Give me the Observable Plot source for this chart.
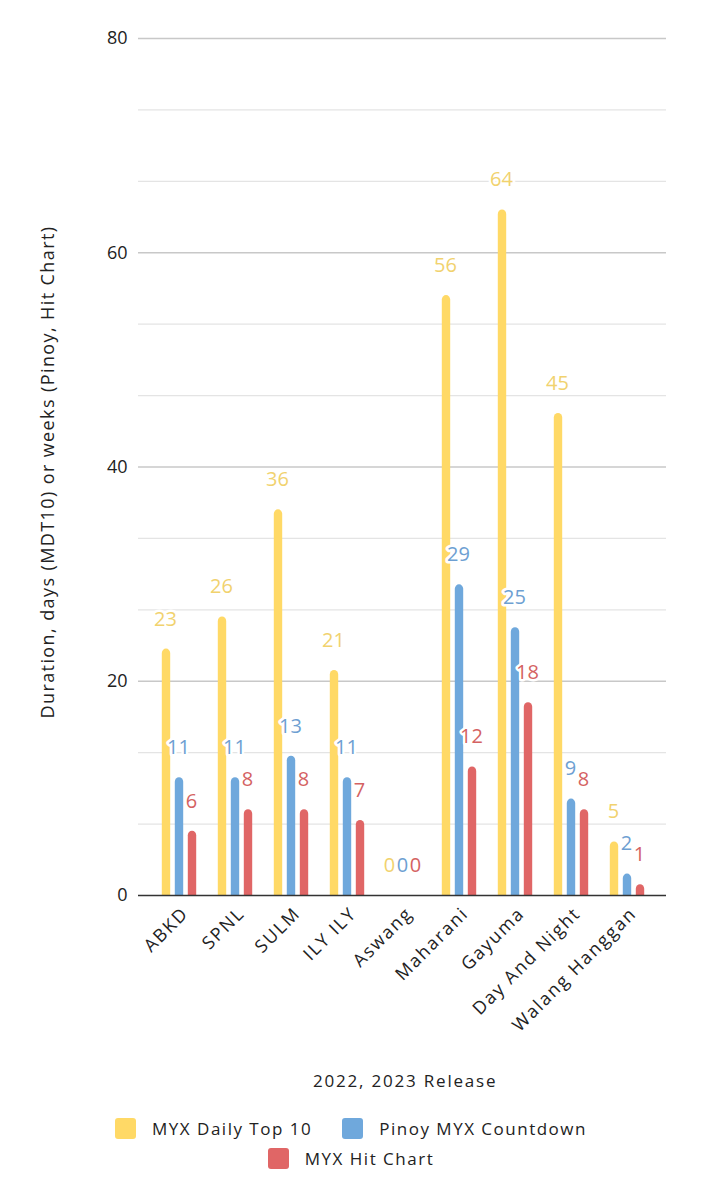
<!DOCTYPE html>
<html>
<head>
<meta charset="utf-8">
<script src="https://cdn.jsdelivr.net/npm/d3@7"></script>
<script src="https://cdn.jsdelivr.net/npm/@observablehq/plot@0.6"></script>
<style>
  body { margin: 0; background: #fff; font-family: "Open Sans", sans-serif; }
  #wrap { width: 702px; }
  #xtitle { height: 32px; line-height: 32px; text-align: left; padding-left: 313px; font-size: 17px; letter-spacing: 1.8px; color: #222; }
  #legend { width: 520px; margin: 16px 0 0 91px; display: flex; flex-wrap: wrap; justify-content: center; column-gap: 30px; }
  .item { display: flex; align-items: center; height: 30px; font-size: 17px; letter-spacing: 1.5px; color: #222; }
  .sw { width: 21px; height: 21px; border-radius: 3px; margin-right: 16px; }
</style>
</head>
<body>
<div id="wrap">
  <div id="chart"></div>
  <div id="xtitle"></div>
  <div id="legend"></div>
</div>
<script>
const categories = ["ABKD", "SPNL", "SULM", "ILY ILY", "Aswang", "Maharani", "Gayuma", "Day And Night", "Walang Hanggan"];
const dailyTop10 = [23, 26, 36, 21, 0, 56, 64, 45, 5];
const pinoyCountdown = [11, 11, 13, 11, 0, 29, 25, 9, 2];
const hitChart = [6, 8, 8, 7, 0, 12, 18, 8, 1];
const seriesNames = ["MYX Daily Top 10", "Pinoy MYX Countdown", "MYX Hit Chart"];
const seriesColors = ["#FFD966", "#6FA8DC", "#E06666"];
const labelColors = ["#F1D26E", "#6E9FD2", "#D46262"];
const majorTicks = [0, 20, 40, 60, 80];
const minorTicks = [20/3, 40/3, 80/3, 100/3, 140/3, 160/3, 200/3, 220/3];
const yTitle = "Duration, days (MDT10) or weeks (Pinoy, Hit Chart)";
const xTitle = "2022, 2023 Release";

const seriesValues = [dailyTop10, pinoyCountdown, hitChart];
const offsets = [-13, 0, 13];
const series = seriesValues.map((vals, s) => ({
  name: seriesNames[s],
  color: seriesColors[s],
  textColor: labelColors[s],
  dx: offsets[s],
  rows: categories.map((c, i) => ({category: c, value: vals[i]}))
}));

const barMarks = series.map(s => Plot.barY(s.rows, {
  x: "category", y1: -0.45, y2: "value", fill: s.color,
  insetLeft: 23.8, insetRight: 23.8, dx: s.dx, rx: 4.5, clip: true
}));
const labelMarks = series.map(s => Plot.text(s.rows, {
  x: "category", y: "value", text: d => String(d.value),
  dx: s.dx - 1, dy: -30, fill: s.textColor, stroke: "white", strokeWidth: 5,
  fontSize: 20, lineAnchor: "middle"
}));

const chart = Plot.plot({
  width: 702, height: 1065,
  marginTop: 38, marginBottom: 170, marginLeft: 138, marginRight: 36,
  style: {fontFamily: "Open Sans", background: "white", color: "#222"},
  x: {domain: categories, padding: 0, insetLeft: 10.7, insetRight: 7.9, axis: null},
  y: {domain: [0, 80], axis: null},
  marks: [
    Plot.ruleY(minorTicks, {stroke: "#e4e4e4", strokeWidth: 1.3}),
    Plot.ruleY(majorTicks.slice(1), {stroke: "#c8c8c8", strokeWidth: 1.5}),
    Plot.axisY(majorTicks, {tickSize: 0, tickPadding: 11, fontSize: 18, label: null, fill: "#222"}),
    ...barMarks,
    Plot.ruleY([0], {stroke: "#333", strokeWidth: 1.6}),
    ...labelMarks,
    Plot.text(categories, {x: d => d, frameAnchor: "bottom", rotate: -45, textAnchor: "end",
      lineAnchor: "middle", dx: 6, dy: 15, fontSize: 18, fill: "#222"}),
    Plot.text([yTitle], {frameAnchor: "left", rotate: -90, dx: -90, dy: 5, fontSize: 18, textAnchor: "middle", fill: "#222"})
  ]
});
document.getElementById("chart").appendChild(chart);
d3.select(chart).selectAll("text").filter(function() { return categories.includes(this.textContent); })
  .style("letter-spacing", "1.8px");
d3.select(chart).selectAll("text").filter(function() { return this.textContent === yTitle; })
  .style("letter-spacing", "1.4px");

document.getElementById("xtitle").textContent = xTitle;
const legend = d3.select("#legend");
seriesNames.forEach((n, i) => {
  const it = legend.append("div").attr("class", "item");
  it.append("div").attr("class", "sw").style("background", seriesColors[i]);
  it.append("span").text(n);
});
</script>
</body>
</html>
